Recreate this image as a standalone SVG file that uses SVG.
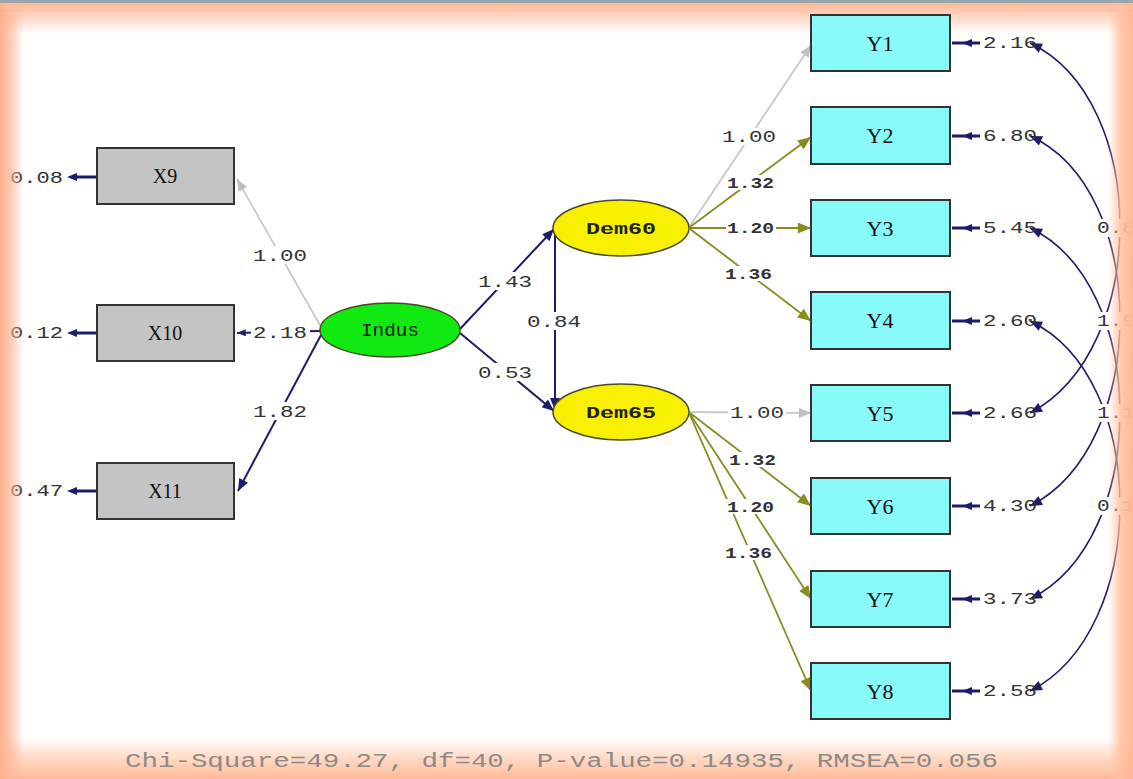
<svg xmlns="http://www.w3.org/2000/svg" width="1133" height="779" viewBox="0 0 1133 779">
<defs>
<style>
.box{stroke:#333;stroke-width:2}
.xb{fill:#c4c4c4}
.yb{fill:#88fafa}
.ell{stroke:#4a4a2a;stroke-width:1.5}
.nt{font-family:"Liberation Serif",serif;font-size:20px;fill:#111;text-anchor:middle}
.ny{font-size:22px}
.lt{font-family:"Liberation Mono",monospace;font-size:16px;font-weight:bold;fill:#222;text-anchor:middle}
.el{font-family:"Liberation Mono",monospace;font-size:16px;fill:#333}
.sm{font-size:14px;font-weight:bold}
.navy{stroke:#1c1c6c;stroke-width:2;fill:none}
.err{stroke:#1c1c6c;stroke-width:3}
.gray{stroke:#c8c8c8;stroke-width:1.8;fill:none}
.olive{stroke:#8a8a22;stroke-width:1.8;fill:none}
.bg{fill:#fff}
</style>
<marker id="an" viewBox="0 0 12 10" refX="12" refY="5" markerWidth="13" markerHeight="10" markerUnits="userSpaceOnUse" orient="auto-start-reverse"><path d="M0,0L12,5L0,10z" fill="#1c1c6c"/></marker>
<marker id="ag" viewBox="0 0 12 10" refX="12" refY="5" markerWidth="12" markerHeight="10" markerUnits="userSpaceOnUse" orient="auto"><path d="M0,0L12,5L0,10z" fill="#c0c0c0"/></marker>
<marker id="ao" viewBox="0 0 12 10" refX="12" refY="5" markerWidth="14" markerHeight="11" markerUnits="userSpaceOnUse" orient="auto"><path d="M0,0L12,5L0,10z" fill="#8a8a22"/></marker>
<marker id="ae" viewBox="0 0 10 8" refX="10" refY="4" markerWidth="9" markerHeight="7" markerUnits="userSpaceOnUse" orient="auto"><path d="M0,0L10,4L0,8z" fill="#1c1c6c"/></marker>
<linearGradient id="gt" x1="0" y1="0" x2="0" y2="1"><stop offset="0" stop-color="#ffb08a"/><stop offset="1" stop-color="#ffb08a" stop-opacity="0"/></linearGradient>
<linearGradient id="gb" x1="0" y1="1" x2="0" y2="0"><stop offset="0" stop-color="#ffb896"/><stop offset="0.5" stop-color="#ffc8aa" stop-opacity="0.7"/><stop offset="1" stop-color="#ffc8aa" stop-opacity="0"/></linearGradient>
<linearGradient id="gl" x1="0" y1="0" x2="1" y2="0"><stop offset="0" stop-color="#fdb08e"/><stop offset="0.4" stop-color="#fdb89a" stop-opacity="0.8"/><stop offset="1" stop-color="#fdb89a" stop-opacity="0"/></linearGradient>
<linearGradient id="gr" x1="1" y1="0" x2="0" y2="0"><stop offset="0" stop-color="#ffb896"/><stop offset="0.5" stop-color="#ffc0a0" stop-opacity="0.85"/><stop offset="1" stop-color="#ffc0a0" stop-opacity="0"/></linearGradient>
</defs>
<rect width="1133" height="779" fill="#fff"/>
<rect x="0" y="0" width="1133" height="34" fill="url(#gt)"/>
<rect x="0" y="738" width="1133" height="41" fill="url(#gb)"/>
<rect x="0" y="0" width="1133" height="3" fill="#9aa6ad"/>

<g id="connectors">
<line class="gray" x1="321" y1="327" x2="237" y2="179" marker-end="url(#ag)"/>
<line class="navy" x1="320" y1="331" x2="237" y2="333" marker-end="url(#ae)"/>
<line class="navy" x1="321" y1="335" x2="238" y2="491" marker-end="url(#an)"/>
<line class="navy" x1="460" y1="329" x2="554" y2="229" marker-end="url(#an)"/>
<line class="navy" x1="460" y1="333" x2="554" y2="411" marker-end="url(#an)"/>
<line class="navy" x1="555" y1="231" x2="555" y2="410" marker-end="url(#an)"/>
<line class="gray" x1="690" y1="226" x2="811" y2="45" marker-end="url(#ag)"/>
<line class="olive" x1="690" y1="227" x2="811" y2="137" marker-end="url(#ao)"/>
<line class="olive" x1="690" y1="228" x2="811" y2="228" marker-end="url(#ao)"/>
<line class="olive" x1="690" y1="229" x2="811" y2="321" marker-end="url(#ao)"/>
<line class="gray" x1="690" y1="412" x2="811" y2="413" marker-end="url(#ag)"/>
<line class="olive" x1="690" y1="413" x2="811" y2="506" marker-end="url(#ao)"/>
<line class="olive" x1="690" y1="414" x2="811" y2="599" marker-end="url(#ao)"/>
<line class="olive" x1="690" y1="415" x2="811" y2="691" marker-end="url(#ao)"/>
<!-- error arrows -->
<line class="err" x1="72" y1="177" x2="97" y2="177"/><path d="M67,177l10,-4v8z" fill="#1c1c6c"/>
<line class="err" x1="72" y1="333" x2="97" y2="333"/><path d="M67,333l10,-4v8z" fill="#1c1c6c"/>
<line class="err" x1="72" y1="491" x2="97" y2="491"/><path d="M67,491l10,-4v8z" fill="#1c1c6c"/>
<line class="err" x1="952" y1="43" x2="980" y2="43"/><path d="M962,43l10,-4v8z" fill="#1c1c6c"/>
<line class="err" x1="952" y1="136" x2="980" y2="136"/><path d="M962,136l10,-4v8z" fill="#1c1c6c"/>
<line class="err" x1="952" y1="228" x2="980" y2="228"/><path d="M962,228l10,-4v8z" fill="#1c1c6c"/>
<line class="err" x1="952" y1="321" x2="980" y2="321"/><path d="M962,321l10,-4v8z" fill="#1c1c6c"/>
<line class="err" x1="952" y1="413" x2="980" y2="413"/><path d="M962,413l10,-4v8z" fill="#1c1c6c"/>
<line class="err" x1="952" y1="506" x2="980" y2="506"/><path d="M962,506l10,-4v8z" fill="#1c1c6c"/>
<line class="err" x1="952" y1="599" x2="980" y2="599"/><path d="M962,599l10,-4v8z" fill="#1c1c6c"/>
<line class="err" x1="952" y1="691" x2="980" y2="691"/><path d="M962,691l10,-4v8z" fill="#1c1c6c"/>
<!-- covariance arcs -->
<path class="navy" style="stroke-width:1.6" d="M1030,43 C1150,100 1150,350 1030,413" marker-start="url(#an)" marker-end="url(#an)"/>
<path class="navy" style="stroke-width:1.6" d="M1030,136 C1150,190 1150,445 1030,506" marker-start="url(#an)" marker-end="url(#an)"/>
<path class="navy" style="stroke-width:1.6" d="M1030,228 C1150,285 1150,540 1030,599" marker-start="url(#an)" marker-end="url(#an)"/>
<path class="navy" style="stroke-width:1.6" d="M1030,321 C1150,378 1150,630 1030,691" marker-start="url(#an)" marker-end="url(#an)"/>
</g>

<g id="edge-labels">
<rect class="bg" x="250" y="246" width="60" height="18"/><text class="el" x="253" y="261" textLength="54" lengthAdjust="spacingAndGlyphs">1.00</text>
<rect class="bg" x="251" y="323" width="59" height="18"/><text class="el" x="253" y="338" textLength="54" lengthAdjust="spacingAndGlyphs">2.18</text>
<rect class="bg" x="250" y="402" width="60" height="18"/><text class="el" x="253" y="417" textLength="54" lengthAdjust="spacingAndGlyphs">1.82</text>
<rect class="bg" x="475" y="272" width="60" height="18"/><text class="el" x="478" y="287" textLength="54" lengthAdjust="spacingAndGlyphs">1.43</text>
<rect class="bg" x="475" y="363" width="60" height="18"/><text class="el" x="478" y="378" textLength="54" lengthAdjust="spacingAndGlyphs">0.53</text>
<rect class="bg" x="524" y="312" width="60" height="18"/><text class="el" x="527" y="327" textLength="54" lengthAdjust="spacingAndGlyphs">0.84</text>
<rect class="bg" x="720" y="128" width="58" height="17"/><text class="el" x="722" y="142" textLength="54" lengthAdjust="spacingAndGlyphs">1.00</text>
<rect class="bg" x="726" y="175" width="50" height="15"/><text class="el sm" x="727" y="188" textLength="47" lengthAdjust="spacingAndGlyphs">1.32</text>
<rect class="bg" x="726" y="220" width="50" height="15"/><text class="el sm" x="727" y="233" textLength="47" lengthAdjust="spacingAndGlyphs">1.20</text>
<rect class="bg" x="724" y="266" width="50" height="15"/><text class="el sm" x="725" y="279" textLength="47" lengthAdjust="spacingAndGlyphs">1.36</text>
<rect class="bg" x="728" y="404" width="58" height="17"/><text class="el" x="730" y="418" textLength="54" lengthAdjust="spacingAndGlyphs">1.00</text>
<rect class="bg" x="728" y="452" width="50" height="15"/><text class="el sm" x="729" y="465" textLength="47" lengthAdjust="spacingAndGlyphs">1.32</text>
<rect class="bg" x="726" y="499" width="50" height="15"/><text class="el sm" x="727" y="512" textLength="47" lengthAdjust="spacingAndGlyphs">1.20</text>
<rect class="bg" x="724" y="545" width="50" height="15"/><text class="el sm" x="725" y="558" textLength="47" lengthAdjust="spacingAndGlyphs">1.36</text>
<!-- error labels -->
<text class="el" x="10" y="183" textLength="53" lengthAdjust="spacingAndGlyphs">0.08</text>
<text class="el" x="10" y="338" textLength="53" lengthAdjust="spacingAndGlyphs">0.12</text>
<text class="el" x="10" y="496" textLength="53" lengthAdjust="spacingAndGlyphs">0.47</text>
<text class="el" x="983" y="48" textLength="54" lengthAdjust="spacingAndGlyphs">2.16</text>
<text class="el" x="983" y="141" textLength="54" lengthAdjust="spacingAndGlyphs">6.80</text>
<text class="el" x="983" y="233" textLength="54" lengthAdjust="spacingAndGlyphs">5.45</text>
<text class="el" x="983" y="326" textLength="54" lengthAdjust="spacingAndGlyphs">2.60</text>
<text class="el" x="983" y="418" textLength="54" lengthAdjust="spacingAndGlyphs">2.66</text>
<text class="el" x="983" y="511" textLength="54" lengthAdjust="spacingAndGlyphs">4.30</text>
<text class="el" x="983" y="604" textLength="54" lengthAdjust="spacingAndGlyphs">3.73</text>
<text class="el" x="983" y="696" textLength="54" lengthAdjust="spacingAndGlyphs">2.58</text>
<!-- covariance labels -->
<rect class="bg" x="1095" y="219" width="40" height="18"/><text class="el" x="1097" y="233" textLength="38" lengthAdjust="spacingAndGlyphs">0.8</text>
<rect class="bg" x="1095" y="312" width="40" height="18"/><text class="el" x="1097" y="326" textLength="38" lengthAdjust="spacingAndGlyphs">1.9</text>
<rect class="bg" x="1095" y="404" width="40" height="18"/><text class="el" x="1097" y="418" textLength="38" lengthAdjust="spacingAndGlyphs">1.1</text>
<rect class="bg" x="1095" y="497" width="40" height="18"/><text class="el" x="1097" y="511" textLength="38" lengthAdjust="spacingAndGlyphs">0.1</text>
</g>

<g id="X9"><rect class="box xb" x="97" y="148" width="137" height="56"/><text class="nt" x="165" y="183">X9</text></g>
<g id="X10"><rect class="box xb" x="97" y="305" width="137" height="56"/><text class="nt" x="165" y="340">X10</text></g>
<g id="X11"><rect class="box xb" x="97" y="463" width="137" height="56"/><text class="nt" x="165" y="498">X11</text></g>
<g id="Indus"><ellipse class="ell" cx="390" cy="330" rx="70" ry="27" fill="#10ea10"/><text class="lt" x="390" y="336" style="font-weight:normal;font-size:18px" textLength="58" lengthAdjust="spacingAndGlyphs">Indus</text></g>
<g id="Dem60"><ellipse class="ell" cx="621" cy="228" rx="68" ry="28" fill="#f8f000"/><text class="lt" x="621" y="234" textLength="70" lengthAdjust="spacingAndGlyphs">Dem60</text></g>
<g id="Dem65"><ellipse class="ell" cx="621" cy="412" rx="68" ry="28" fill="#f8f000"/><text class="lt" x="621" y="418" textLength="70" lengthAdjust="spacingAndGlyphs">Dem65</text></g>
<g id="Y1"><rect class="box yb" x="811" y="15" width="139" height="56"/><text class="nt ny" x="880" y="51">Y1</text></g>
<g id="Y2"><rect class="box yb" x="811" y="107" width="139" height="57"/><text class="nt ny" x="880" y="143">Y2</text></g>
<g id="Y3"><rect class="box yb" x="811" y="200" width="139" height="56"/><text class="nt ny" x="880" y="236">Y3</text></g>
<g id="Y4"><rect class="box yb" x="811" y="292" width="139" height="57"/><text class="nt ny" x="880" y="328">Y4</text></g>
<g id="Y5"><rect class="box yb" x="811" y="385" width="139" height="56"/><text class="nt ny" x="880" y="421">Y5</text></g>
<g id="Y6"><rect class="box yb" x="811" y="478" width="139" height="56"/><text class="nt ny" x="880" y="514">Y6</text></g>
<g id="Y7"><rect class="box yb" x="811" y="571" width="139" height="56"/><text class="nt ny" x="880" y="607">Y7</text></g>
<g id="Y8"><rect class="box yb" x="811" y="663" width="139" height="56"/><text class="nt ny" x="880" y="699">Y8</text></g>

<text x="125" y="767" font-family="'Liberation Mono',monospace" font-size="20" fill="#8a8a8a" textLength="873" lengthAdjust="spacingAndGlyphs">Chi-Square=49.27, df=40, P-value=0.14935, RMSEA=0.056</text>

<rect x="0" y="3" width="24" height="776" fill="url(#gl)"/>
<rect x="1108" y="3" width="25" height="776" fill="url(#gr)"/>
</svg>
